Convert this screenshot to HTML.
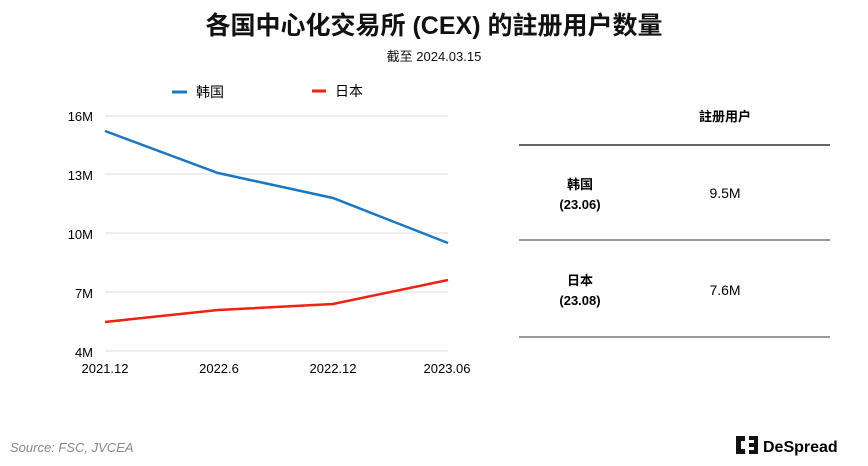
<!DOCTYPE html><html><head><meta charset="utf-8"><style>
body{margin:0;width:868px;height:466px;background:#fff;font-family:"Liberation Sans","Noto Sans CJK SC",sans-serif;color:#111;position:relative;overflow:hidden}
.a{position:absolute}
</style></head><body>
<div class="a" style="left:0;width:868px;top:6px;text-align:center;font-size:25px;font-weight:bold">各国中心化交易所 (CEX) 的註册用户数量</div>
<div class="a" style="left:0;width:868px;top:46px;text-align:center;font-size:13px">截至 2024.03.15</div>
<svg class="a" style="left:0;top:0" width="868" height="466">
<line x1="172" y1="92" x2="187" y2="92" stroke="#1a78c2" stroke-width="3"/>
<text x="196" y="97" font-size="14" font-family="Liberation Sans,Noto Sans CJK SC,sans-serif">韩国</text>
<line x1="312" y1="91" x2="326" y2="91" stroke="#ee2211" stroke-width="3"/>
<text x="335" y="96" font-size="14" font-family="Liberation Sans,Noto Sans CJK SC,sans-serif">日本</text>
<g stroke="#ddd" stroke-width="1"><line x1="105" y1="116" x2="448" y2="116"/><line x1="105" y1="174" x2="448" y2="174"/><line x1="105" y1="233" x2="448" y2="233"/><line x1="105" y1="292" x2="448" y2="292"/><line x1="105" y1="351" x2="448" y2="351"/></g>
<g font-size="13" text-anchor="end" font-family="Liberation Sans,sans-serif"><text x="93" y="121">16M</text><text x="93" y="180">13M</text><text x="93" y="239">10M</text><text x="93" y="298">7M</text><text x="93" y="357">4M</text></g>
<g font-size="13" text-anchor="middle" font-family="Liberation Sans,sans-serif"><text x="105" y="373">2021.12</text><text x="219" y="373">2022.6</text><text x="333" y="373">2022.12</text><text x="447" y="373">2023.06</text></g>
<polyline points="105,131 218,173 333,198 448,243" fill="none" stroke="#1a78c2" stroke-width="2.5"/>
<polyline points="105,322 218,310 333,304 448,280" fill="none" stroke="#ee2211" stroke-width="2.5"/>
<g stroke="#333" stroke-width="1"><line x1="519" y1="145" x2="830" y2="145" stroke-width="1.5"/><line x1="519" y1="240" x2="830" y2="240"/><line x1="519" y1="337" x2="830" y2="337"/></g>
<g font-family="Liberation Sans,Noto Sans CJK SC,sans-serif" text-anchor="middle">
<text x="725" y="121" font-size="13" font-weight="bold">註册用户</text>
<text x="580" y="189" font-size="13" font-weight="bold">韩国</text><text x="580" y="209" font-size="13" font-weight="bold">(23.06)</text>
<text x="725" y="198" font-size="14">9.5M</text>
<text x="580" y="285" font-size="13" font-weight="bold">日本</text><text x="580" y="305" font-size="13" font-weight="bold">(23.08)</text>
<text x="725" y="295" font-size="14">7.6M</text>
</g>
<text x="10" y="452" font-size="13" font-style="italic" fill="#888" font-family="Liberation Sans,sans-serif">Source: FSC, JVCEA</text>
<g fill="#111"><rect x="736" y="436" width="5" height="18"/><rect x="736" y="436" width="9" height="5"/><rect x="736" y="449" width="9" height="5"/><rect x="749" y="436" width="8" height="4"/><rect x="749" y="443" width="8" height="4"/><rect x="749" y="450" width="8" height="4"/><rect x="754" y="436" width="4" height="18"/></g>
<text x="763" y="452" font-size="16" font-weight="bold" font-family="Liberation Sans,sans-serif">DeSpread</text>
</svg>
</body></html>
